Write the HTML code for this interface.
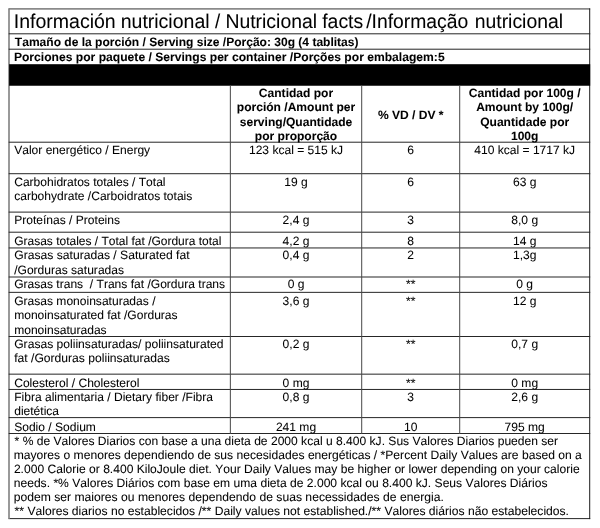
<!DOCTYPE html>
<html><head><meta charset="utf-8"><title>Nutritional facts</title>
<style>
html,body{margin:0;padding:0;background:#fff;}
body{width:600px;height:528px;position:relative;overflow:hidden;}
svg{position:absolute;left:0;top:0;will-change:transform;}
.tx{filter:blur(0.5px);}
.gl{filter:blur(0.25px);}
text{font-family:"Liberation Sans",sans-serif;font-size:12.05px;fill:#000;stroke:#000;stroke-width:0.06px;font-kerning:none;white-space:pre;}
</style></head><body>
<svg width="600" height="528" viewBox="0 0 600 528" text-rendering="geometricPrecision">
<g class="gl">
<rect x="8.70" y="8.20" width="581.50" height="1.4" fill="#6e6e6e"/>
<rect x="8.70" y="518.10" width="581.50" height="1.0" fill="#262626"/>
<rect x="8.20" y="8.40" width="1.6" height="510.70" fill="#808080"/>
<rect x="589.20" y="8.40" width="1.0" height="510.70" fill="#1c1c1c"/>
<rect x="8.70" y="33.30" width="581.50" height="1.0" fill="#262626"/>
<rect x="8.70" y="48.70" width="581.50" height="1.0" fill="#262626"/>
<rect x="9.10" y="64.20" width="581.10" height="21.55" fill="#000"/>
<rect x="8.70" y="141.70" width="581.50" height="1.0" fill="#262626"/>
<rect x="8.70" y="173.20" width="581.50" height="1.0" fill="#262626"/>
<rect x="8.70" y="211.60" width="581.50" height="1.0" fill="#262626"/>
<rect x="8.70" y="231.70" width="581.50" height="1.0" fill="#262626"/>
<rect x="8.70" y="247.45" width="581.50" height="1.0" fill="#262626"/>
<rect x="8.70" y="276.50" width="581.50" height="1.0" fill="#262626"/>
<rect x="8.70" y="291.85" width="581.50" height="1.0" fill="#262626"/>
<rect x="8.70" y="336.00" width="581.50" height="1.0" fill="#262626"/>
<rect x="8.70" y="373.65" width="581.50" height="1.0" fill="#262626"/>
<rect x="8.70" y="388.95" width="581.50" height="1.0" fill="#262626"/>
<rect x="8.70" y="417.10" width="581.50" height="1.0" fill="#262626"/>
<rect x="8.70" y="433.00" width="581.50" height="1.0" fill="#262626"/>
<rect x="229.85" y="85.25" width="1.0" height="348.75" fill="#484848"/>
<rect x="361.20" y="85.25" width="1.0" height="348.75" fill="#484848"/>
<rect x="459.20" y="85.25" width="1.0" height="348.75" fill="#484848"/>
</g>
<g class="tx">
<text transform="translate(13.70,28.10) scale(0.9817,1)" style="font-size:19.9px">Información</text>
<text transform="translate(120.70,28.10) scale(0.9801,1)" style="font-size:19.9px">nutricional</text>
<text transform="translate(215.00,28.10) scale(0.9405,1)" style="font-size:19.9px">/</text>
<text transform="translate(225.41,28.10) scale(0.9753,1)" style="font-size:19.9px">Nutricional</text>
<text transform="translate(322.23,28.10) scale(0.9750,1)" style="font-size:19.9px">facts</text>
<text transform="translate(366.20,28.10) scale(0.9718,1)" style="font-size:19.9px">/Informação</text>
<text transform="translate(474.71,28.10) scale(0.9744,1)" style="font-size:19.9px">nutricional</text>
<text transform="translate(14.86,45.65) scale(0.9987,1)" style="font-size:12.05px" font-weight="bold">Tamaño de la porción / Serving size /Porção: 30g (4 tablitas)</text>
<text transform="translate(13.89,61.20) scale(1.0053,1)" style="font-size:12.05px" font-weight="bold">Porciones por paquete / Servings per container /Porções por embalagem:5</text>
<text x="296.02" y="97.15" font-weight="bold" text-anchor="middle">Cantidad por</text>
<text x="296.02" y="111.35" font-weight="bold" text-anchor="middle">porción /Amount per</text>
<text x="296.02" y="125.55" font-weight="bold" text-anchor="middle">serving/Quantidade</text>
<text x="296.02" y="139.75" font-weight="bold" text-anchor="middle">por proporção</text>
<text x="410.70" y="118.80" font-weight="bold" text-anchor="middle">% VD / DV *</text>
<text x="524.70" y="97.15" font-weight="bold" text-anchor="middle">Cantidad por 100g /</text>
<text x="524.70" y="111.35" font-weight="bold" text-anchor="middle">Amount by 100g/</text>
<text x="524.70" y="125.55" font-weight="bold" text-anchor="middle">Quantidade por</text>
<text x="524.70" y="139.75" font-weight="bold" text-anchor="middle">100g</text>
<text x="14.20" y="154.10">Valor energético / Energy</text>
<text x="296.02" y="154.10" text-anchor="middle">123 kcal = 515 kJ</text>
<text x="410.70" y="154.10" text-anchor="middle">6</text>
<text x="524.70" y="154.10" text-anchor="middle">410 kcal = 1717 kJ</text>
<text x="14.20" y="186.10">Carbohidratos totales / Total</text>
<text x="14.20" y="199.70">carbohydrate /Carboidratos totais</text>
<text x="296.02" y="186.10" text-anchor="middle">19 g</text>
<text x="410.70" y="186.10" text-anchor="middle">6</text>
<text x="524.70" y="186.10" text-anchor="middle">63 g</text>
<text x="14.20" y="224.20">Proteínas / Proteins</text>
<text x="296.02" y="224.20" text-anchor="middle">2,4 g</text>
<text x="410.70" y="224.20" text-anchor="middle">3</text>
<text x="524.70" y="224.20" text-anchor="middle">8,0 g</text>
<text transform="translate(14.20,244.55) scale(0.9952,1)" style="font-size:12.05px">Grasas totales / Total fat /Gordura total</text>
<text x="296.02" y="244.55" text-anchor="middle">4,2 g</text>
<text x="410.70" y="244.55" text-anchor="middle">8</text>
<text x="524.70" y="244.55" text-anchor="middle">14 g</text>
<text transform="translate(14.20,259.40) scale(1.0075,1)" style="font-size:12.05px">Grasas saturadas / Saturated fat</text>
<text x="14.20" y="274.20">/Gorduras saturadas</text>
<text x="296.02" y="259.40" text-anchor="middle">0,4 g</text>
<text x="410.70" y="259.40" text-anchor="middle">2</text>
<text x="524.70" y="259.40" text-anchor="middle">1,3g</text>
<text x="14.20" y="288.35">Grasas trans  / Trans fat /Gordura trans</text>
<text x="296.02" y="288.35" text-anchor="middle">0 g</text>
<text x="410.70" y="288.35" text-anchor="middle">**</text>
<text x="524.70" y="288.35" text-anchor="middle">0 g</text>
<text x="14.20" y="304.90">Grasas monoinsaturadas /</text>
<text x="14.20" y="319.10">monoinsaturated fat /Gorduras</text>
<text x="14.20" y="333.65">monoinsaturadas</text>
<text x="296.02" y="304.90" text-anchor="middle">3,6 g</text>
<text x="410.70" y="304.90" text-anchor="middle">**</text>
<text x="524.70" y="304.90" text-anchor="middle">12 g</text>
<text transform="translate(14.20,348.40) scale(1.0048,1)" style="font-size:12.05px">Grasas poliinsaturadas/ poliinsaturated</text>
<text transform="translate(14.20,361.90) scale(1.0058,1)" style="font-size:12.05px">fat /Gorduras poliinsaturadas</text>
<text x="296.02" y="348.40" text-anchor="middle">0,2 g</text>
<text x="410.70" y="348.40" text-anchor="middle">**</text>
<text x="524.70" y="348.40" text-anchor="middle">0,7 g</text>
<text x="14.20" y="386.50">Colesterol / Cholesterol</text>
<text x="296.02" y="386.50" text-anchor="middle">0 mg</text>
<text x="410.70" y="386.50" text-anchor="middle">**</text>
<text x="524.70" y="386.50" text-anchor="middle">0 mg</text>
<text x="14.20" y="401.40">Fibra alimentaria / Dietary fiber /Fibra</text>
<text x="14.20" y="415.40">dietética</text>
<text x="296.02" y="401.40" text-anchor="middle">0,8 g</text>
<text x="410.70" y="401.40" text-anchor="middle">3</text>
<text x="524.70" y="401.40" text-anchor="middle">2,6 g</text>
<text x="14.20" y="430.50">Sodio / Sodium</text>
<text x="296.02" y="430.50" text-anchor="middle">241 mg</text>
<text x="410.70" y="430.50" text-anchor="middle">10</text>
<text x="524.70" y="430.50" text-anchor="middle">795 mg</text>
<text transform="translate(14.61,444.80) scale(1.0019,1)" style="font-size:12.05px">* % de Valores Diarios con base a una dieta de 2000 kcal u 8.400 kJ. Sus Valores Diarios pueden ser</text>
<text transform="translate(13.70,458.90) scale(1.0052,1)" style="font-size:12.05px">mayores o menores dependiendo de sus necesidades energéticas / *Percent Daily Values are based on a</text>
<text transform="translate(13.89,473.00) scale(1.0021,1)" style="font-size:12.05px">2.000 Calorie or 8.400 KiloJoule diet. Your Daily Values may be higher or lower depending on your calorie</text>
<text transform="translate(13.70,487.10) scale(1.0040,1)" style="font-size:12.05px">needs. *% Valores Diários com base em uma dieta de 2.000 kcal ou 8.400 kJ. Seus Valores Diários</text>
<text transform="translate(13.72,501.20) scale(1.0081,1)" style="font-size:12.05px">podem ser maiores ou menores dependendo de suas necessidades de energia.</text>
<text transform="translate(14.60,515.30) scale(1.0059,1)" style="font-size:12.05px">** Valores diarios no establecidos /** Daily values not established./** Valores diários não estabelecidos.</text>
</g>
</svg>
</body></html>
